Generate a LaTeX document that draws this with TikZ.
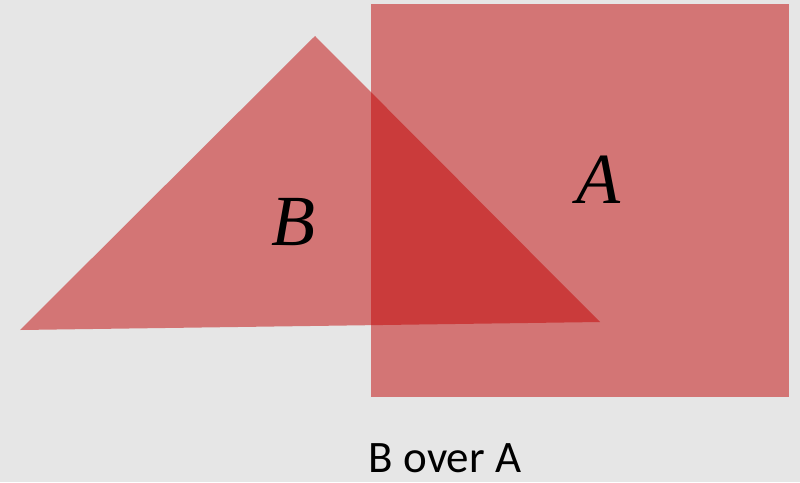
\documentclass[tikz,border=0pt]{standalone}
\usepackage{fontspec}
\setmainfont{Carlito}
\newfontfamily\labelfont{Liberation Serif}
\definecolor{bgcol}{RGB}{230,230,230}
\definecolor{shapecol}{RGB}{193,0,0}
\begin{document}
\begin{tikzpicture}[x=1pt,y=-1pt,
  shapefill/.style={fill=shapecol,fill opacity=0.49,draw=none},
  letter/.style={font=\labelfont\itshape\fontsize{72}{72}\selectfont,inner sep=0pt,anchor=center},
  caption/.style={font=\fontsize{45}{45}\selectfont,inner sep=0pt,text depth=0pt,anchor=base}]
\fill[bgcol] (0,0) rectangle (800,482);
\useasboundingbox (0,0) rectangle (800,482);
\fill[shapefill] (371,4) rectangle (789,397);
\fill[shapefill] (315,36) -- (20,330) -- (600,322) -- cycle;
\node[letter] (a) at (598,180) {A};
\node[letter] (b) at (293,222) {B};
\node[caption] (cap) at (445,472) {B over A};
\end{tikzpicture}
\end{document}
